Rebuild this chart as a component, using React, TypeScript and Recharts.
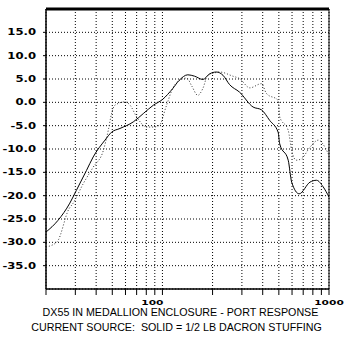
import React from 'react';
import {
  LineChart, Line, XAxis, YAxis, CartesianGrid, ReferenceArea, ReferenceLine,
} from 'recharts';

// solid trace: 1/2 lb dacron stuffing
const solidFreq = [20, 23.6, 27.8, 30.4, 35, 38.4, 45.2, 49.5, 55.6, 66.8, 76.8, 88.3, 100, 115, 126, 142, 156, 175, 192, 211, 231, 253, 290, 350, 393, 441, 495, 506, 569, 597, 662, 769, 842, 922, 1000];
const solidDb = [-27.8, -25.3, -21.6, -18.9, -14.6, -11.7, -8.1, -6.4, -5.6, -4.2, -2.4, -0.6, 0.6, 2.9, 4.7, 5.9, 5.6, 4.9, 6.1, 6.5, 5.8, 3.8, 2.2, -1.0, -1.6, -3.9, -6.4, -8.9, -12.4, -17.1, -19.6, -17.1, -16.7, -18.1, -20.3];

// dotted trace: comparison
const dotFreq = [20, 23.3, 27.5, 29, 33.5, 38.4, 44.2, 47.3, 49.5, 51.9, 59.6, 63.9, 70, 80.5, 88.3, 96, 105, 115, 126, 140, 150, 163, 175, 187, 205, 220, 265, 290, 335, 393, 421, 495, 506, 569, 597, 636, 683, 769, 863, 945, 1000];
const dotDb = [-31.0, -29.9, -22.8, -21.7, -17.4, -13.9, -10.3, -6.0, -2.4, -0.6, 0.1, -0.6, -3.1, -5.3, -5.3, -4.9, -1.0, 2.9, 4.7, 5.2, 3.5, 1.5, 3.0, 5.8, 6.3, 6.5, 5.6, 5.1, 3.1, 4.0, 1.9, 0.4, -3.1, -6.0, -10.3, -12.4, -12.1, -9.6, -8.1, -9.6, -11.4];

const xTicks = [20, 30, 40, 50, 60, 70, 80, 90, 100, 200, 300, 400, 500, 600, 700, 800, 900, 1000];
const yTicks = [-35, -30, -25, -20, -15, -10, -5, 0, 5, 10, 15];
const title1 = 'DX55 IN MEDALLION ENCLOSURE - PORT RESPONSE';
const title2 = 'CURRENT SOURCE:  SOLID = 1/2 LB DACRON STUFFING';

const solid = solidFreq.map((f, i) => ({ f, db: solidDb[i] }));
const dotted = dotFreq.map((f, i) => ({ f, db: dotDb[i] }));

const LABEL_FONT = '"DejaVu Sans", sans-serif';

function XTick(props: any) {
  const { x, y, payload } = props;
  const v = payload.value;
  if (v !== 100 && v !== 1000) return null;
  return (
    <g transform={`translate(${v === 100 ? x + 1 : x},${y + 10}) scale(1.4,1)`}>
      <text x={0} y={0} textAnchor={v === 100 ? 'end' : 'middle'} fontFamily={LABEL_FONT}
        fontWeight={700} fontSize={7.6} fill="#000">{v}</text>
    </g>
  );
}

function YTick(props: any) {
  const { x, y, payload } = props;
  return (
    <g transform={`translate(${x},${y + 3}) scale(1.42,1)`}>
      <text x={0} y={0} textAnchor="end" fontFamily={LABEL_FONT}
        fontWeight={700} fontSize={8.2} fill="#000">{payload.value.toFixed(1)}</text>
    </g>
  );
}

const titleStyle: React.CSSProperties = {
  position: 'absolute', left: 0, width: 349, textAlign: 'center',
  fontFamily: '"Liberation Sans", Arial, sans-serif', fontSize: 10.7,
  lineHeight: '11px', whiteSpace: 'pre', color: '#000',
};

export default function App() {
  return (
    <div style={{ position: 'absolute', left: 0, top: 0, width: 349, height: 348, background: '#fff' }}>
      <LineChart width={349} height={348} margin={{ top: 9, right: 20, bottom: 39, left: 0 }}>
        <CartesianGrid stroke="#000" strokeDasharray="1 2" />
        <XAxis
          dataKey="f" type="number" scale="log" domain={[20, 1000]} ticks={xTicks}
          allowDataOverflow height={20} tickSize={6} tickMargin={0}
          axisLine={{ stroke: '#000' }} tickLine={{ stroke: '#000' }} tick={<XTick />}
          interval={0}
        />
        <YAxis
          type="number" domain={[-40, 20]} ticks={yTicks} allowDataOverflow width={46}
          tickSize={3} tickMargin={7} axisLine={{ stroke: '#000' }} tickLine={{ stroke: '#000' }}
          tick={<YTick />} interval={0}
        />
        <ReferenceArea x1={20} x2={1000} y1={-40} y2={20} fill="none" stroke="#000" />
        <ReferenceLine y={20} stroke="#000" strokeWidth={3} />
        <Line data={dotted} dataKey="db" type="monotone" stroke="#333" strokeWidth={1}
          strokeDasharray="1 2" dot={false} isAnimationActive={false} />
        <Line data={solid} dataKey="db" type="monotone" stroke="#000" strokeWidth={1}
          dot={false} isAnimationActive={false} />
      </LineChart>
      <div style={{ ...titleStyle, top: 307, left: 6 }}>{title1}</div>
      <div style={{ ...titleStyle, top: 322, left: 2 }}>{title2}</div>
    </div>
  );
}
